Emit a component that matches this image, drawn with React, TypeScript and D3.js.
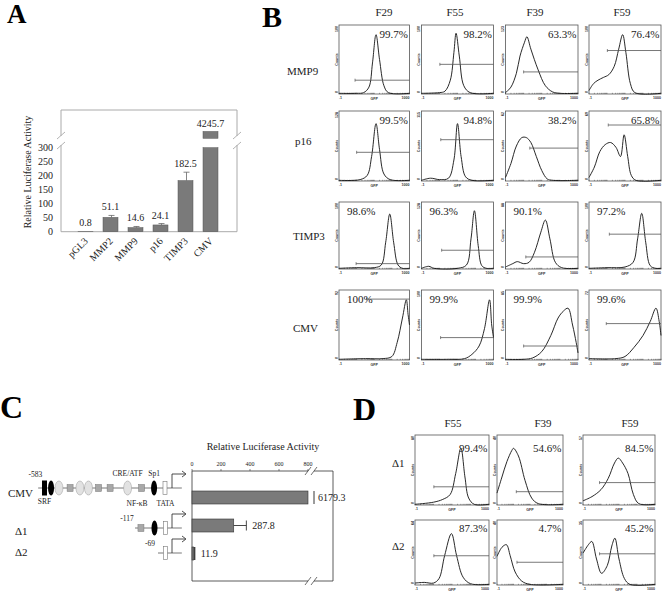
import React from 'react';
import * as d3 from 'd3';

// ---------- Panel A data ----------
const promoters = ['pGL3', 'MMP2', 'MMP9', 'p16', 'TIMP3', 'CMV'];
const activity = [0.8, 51.1, 14.6, 24.1, 182.5, 4245.7];
const activityErr = [0, 7, 4, 5, 30, 0];
const activityTicks = [0, 50, 100, 150, 200, 250, 300];

// ---------- Panel B data ----------
const colsB = ['F29', 'F55', 'F39', 'F59'];
const rowsB = ['MMP9', 'p16', 'TIMP3', 'CMV'];
const pctB = [
  ['99.7%', '98.2%', '63.3%', '76.4%'],
  ['99.5%', '94.8%', '38.2%', '65.8%'],
  ['98.6%', '96.3%', '90.1%', '97.2%'],
  ['100%', '99.9%', '99.9%', '99.6%'],
];
const pctSideB = ['right', 'right', 'left', 'left'];
// gate: [start log10(GFP), height fraction]
const gatesB = [
  [[-0.09, 0.2], [0.02, 0.43], [0.0, 0.32], [0.02, 0.63]],
  [[0.0, 0.41], [0.07, 0.59], [0.34, 0.47], [0.07, 0.8]],
  [[-0.03, 0.08], [0.12, 0.28], [0.12, 0.18], [0.13, 0.52]],
  [[0.57, 0.87], [0.06, 0.32], [0.0, 0.2], [-0.04, 0.52]],
];
const topCountB = [
  ['100', '100', '123', '100'],
  ['128', '115', '62', '69'],
  ['100', '128', '88', '100'],
  ['92', '100', '85', '72'],
];
// histogram outlines: [log10(GFP), height fraction]
const histB = [
  [
    [[-1, 0.01], [0, 0.01], [0.4, 0.02], [0.7, 0.1], [0.9, 0.45], [1.1, 0.86], [1.3, 0.5], [1.55, 0.12], [1.8, 0.02], [3, 0.01]],
    [[-1, 0.01], [0, 0.02], [0.3, 0.04], [0.6, 0.2], [0.8, 0.6], [0.92, 0.88], [1.1, 0.55], [1.35, 0.12], [1.7, 0.02], [3, 0.01]],
    [[-1, 0.02], [-0.7, 0.1], [-0.4, 0.3], [-0.2, 0.55], [0.05, 0.75], [0.18, 0.83], [0.4, 0.65], [0.8, 0.35], [1.2, 0.12], [1.6, 0.03], [2, 0.01], [3, 0.01]],
    [[-1, 0.05], [-0.75, 0.15], [-0.5, 0.2], [-0.2, 0.24], [0.1, 0.28], [0.4, 0.4], [0.65, 0.65], [0.87, 0.86], [1.05, 0.6], [1.3, 0.15], [1.55, 0.02], [3, 0.01]],
  ],
  [
    [[-1, 0.01], [0.2, 0.02], [0.6, 0.08], [0.85, 0.35], [1.1, 0.82], [1.3, 0.45], [1.55, 0.1], [1.9, 0.02], [3, 0.01]],
    [[-1, 0.01], [-0.5, 0.04], [0, 0.02], [0.5, 0.04], [0.8, 0.3], [1, 0.82], [1.2, 0.35], [1.45, 0.06], [1.8, 0.01], [3, 0.01]],
    [[-1, 0.05], [-0.7, 0.25], [-0.4, 0.5], [-0.1, 0.62], [0.15, 0.62], [0.4, 0.55], [0.7, 0.35], [1.0, 0.15], [1.3, 0.03], [1.6, 0.01], [3, 0.01]],
    [[-1, 0.05], [-0.7, 0.2], [-0.4, 0.42], [-0.1, 0.52], [0.2, 0.55], [0.5, 0.48], [0.75, 0.35], [0.95, 0.66], [1.15, 0.35], [1.35, 0.08], [1.6, 0.01], [3, 0.01]],
  ],
  [
    [[-1, 0.01], [0, 0.02], [1, 0.02], [1.4, 0.06], [1.65, 0.4], [1.88, 0.82], [2.1, 0.4], [2.35, 0.06], [2.6, 0.01], [3, 0.01]],
    [[-1, 0.01], [-0.6, 0.04], [-0.3, 0.01], [1, 0.01], [1.5, 0.06], [1.75, 0.45], [1.94, 0.87], [2.15, 0.35], [2.35, 0.05], [2.6, 0.01], [3, 0.01]],
    [[-1, 0.03], [-0.6, 0.08], [-0.35, 0.11], [0, 0.08], [0.3, 0.1], [0.6, 0.25], [0.95, 0.55], [1.2, 0.73], [1.45, 0.45], [1.75, 0.1], [2.1, 0.02], [3, 0.01]],
    [[-1, 0.01], [0, 0.02], [1, 0.03], [1.45, 0.1], [1.7, 0.45], [1.93, 0.83], [2.15, 0.4], [2.4, 0.05], [2.7, 0.01], [3, 0.01]],
  ],
  [
    [[-1, 0.01], [0.5, 0.02], [1.5, 0.02], [2, 0.05], [2.3, 0.25], [2.6, 0.6], [2.82, 0.86], [2.92, 0.65], [3, 0.5]],
    [[-1, 0.01], [0.5, 0.01], [1.4, 0.02], [1.8, 0.08], [2.2, 0.2], [2.5, 0.45], [2.78, 0.86], [2.9, 0.5], [3, 0.32]],
    [[-1, 0.01], [0, 0.01], [0.5, 0.03], [1, 0.12], [1.5, 0.35], [1.9, 0.6], [2.2, 0.7], [2.45, 0.74], [2.7, 0.5], [2.9, 0.25], [3, 0.1]],
    [[-1, 0.02], [0.5, 0.02], [1, 0.05], [1.5, 0.18], [2, 0.35], [2.4, 0.55], [2.72, 0.74], [2.9, 0.55], [3, 0.35]],
  ],
];

// ---------- Panel C data ----------
const constructs = ['CMV', 'Δ1', 'Δ2'];
const constructActivity = [6179.3, 287.8, 11.9];
const constructErr = [0, 87, 0];
const constructTicks = [0, 200, 400, 600, 800];
const constructStart = [-612, -169, -64]; // bp where drawn DNA line begins
const constructStartLabel = ['-583', '-117', '-69'];
// promoter elements: bp position and kind
const cmvElements = [
  { bp: -583, kind: 'srf' },
  { bp: -553, kind: 'black' },
  { bp: -517, kind: 'oval' },
  { bp: -466, kind: 'box' },
  { bp: -421, kind: 'oval' },
  { bp: -382, kind: 'oval' },
  { bp: -336, kind: 'box' },
  { bp: -283, kind: 'box' },
  { bp: -203, kind: 'oval' },
  { bp: -139, kind: 'box' },
  { bp: -82, kind: 'black' },
  { bp: -32, kind: 'tata' },
];
const d1Elements = [
  { bp: -142, kind: 'box' },
  { bp: -80, kind: 'black' },
  { bp: -30, kind: 'tata' },
];
const d2Elements = [{ bp: -30, kind: 'tata' }];
const elementSets = [cmvElements, d1Elements, d2Elements];

// ---------- Panel D data ----------
const colsD = ['F55', 'F39', 'F59'];
const rowsD = ['Δ1', 'Δ2'];
const pctD = [
  ['99.4%', '54.6%', '84.5%'],
  ['87.3%', '4.7%', '45.2%'],
];
const gatesD = [
  [[0.02, 0.26], [0.17, 0.19], [-0.08, 0.32]],
  [[0.02, 0.45], [0.21, 0.35], [-0.08, 0.48]],
];
const topCountD = [
  ['80', '40', '57'],
  ['64', '40', '35'],
];
const histD = [
  [
    [[-1, 0.01], [0, 0.04], [0.5, 0.08], [0.9, 0.15], [1.2, 0.45], [1.48, 0.81], [1.7, 0.4], [1.9, 0.1], [2.2, 0.01], [3, 0.01]],
    [[-1, 0.17], [-0.7, 0.4], [-0.4, 0.62], [-0.1, 0.78], [0, 0.81], [0.3, 0.7], [0.7, 0.35], [1.1, 0.1], [1.5, 0.02], [3, 0.01]],
    [[-1, 0.06], [-0.5, 0.12], [0, 0.22], [0.4, 0.38], [0.75, 0.6], [0.96, 0.67], [1.2, 0.6], [1.5, 0.45], [1.8, 0.15], [2.1, 0.02], [3, 0.01]],
  ],
  [
    [[-1, 0.03], [-0.5, 0.04], [0, 0.03], [0.3, 0.1], [0.6, 0.45], [0.97, 0.79], [1.25, 0.45], [1.6, 0.12], [2, 0.02], [3, 0.01]],
    [[-1, 0.44], [-0.7, 0.58], [-0.43, 0.62], [-0.2, 0.45], [0.1, 0.2], [0.5, 0.06], [1, 0.01], [3, 0.01]],
    [[-1, 0.49], [-0.7, 0.62], [-0.51, 0.67], [-0.25, 0.4], [0.03, 0.18], [0.35, 0.3], [0.6, 0.6], [0.77, 0.72], [1.0, 0.4], [1.3, 0.1], [1.6, 0.01], [3, 0.01]],
  ],
];

const SERIF = "'Liberation Serif', 'Times New Roman', serif";

type HistProps = {
  x: number; y: number; w: number; h: number;
  pts: number[][]; gate: number[]; pct: string; side: string; pctDy: number; top: string;
};

function Histogram({ x, y, w, h, pts, gate, pct, side, pctDy, top }: HistProps) {
  const xs = d3.scaleLinear().domain([-1, 3]).range([x, x + w]);
  const ys = d3.scaleLinear().domain([0, 1]).range([y + h, y]).clamp(true);
  const logScale = d3.scaleLog().domain([0.1, 1000]).range([x, x + w]);
  const line = d3
    .line<number[]>()
    .x((d) => xs(d[0]))
    .y((d) => ys(d[1]))
    .curve(d3.curveCatmullRom.alpha(0.5));
  const minor = logScale.ticks();
  const gx = xs(gate[0]);
  const gy = ys(gate[1]);
  return (
    <g>
      <rect x={x} y={y} width={w} height={h} fill="#fff" stroke="#555" strokeWidth={0.8} />
      {minor.map((t, i) => (
        <line key={i} x1={logScale(t)} x2={logScale(t)} y1={y + h} y2={y + h - 1.2} stroke="#444" strokeWidth={0.5} />
      ))}
      <path d={line(pts) || ''} fill="none" stroke="#111" strokeWidth={0.9} />
      <line x1={gx} x2={x + w} y1={gy} y2={gy} stroke="#555" strokeWidth={0.8} />
      <line x1={gx} x2={gx} y1={gy - 1.5} y2={gy + 1.5} stroke="#555" strokeWidth={0.7} />
      <text x={x} y={y + h + 5} fontSize={3.6} fontFamily="Arial" fontWeight="bold" fill="#333">.1</text>
      <text x={x + w} y={y + h + 5} fontSize={3.6} fontFamily="Arial" fontWeight="bold" textAnchor="end" fill="#333">1000</text>
      <text x={x + w / 2} y={y + h + 6} fontSize={3.6} fontFamily="Arial" fontWeight="bold" textAnchor="middle" fill="#333">GFP</text>
      <text transform={`translate(${x - 1.5},${y + h / 2}) rotate(-90)`} fontSize={3.6} fontFamily="Arial" fontWeight="bold" textAnchor="middle" fill="#333">Counts</text>
      <text transform={`translate(${x - 1.5},${y + 1}) rotate(-90)`} fontSize={3.6} fontFamily="Arial" fontWeight="bold" textAnchor="end" fill="#333">{top}</text>
      <text transform={`translate(${x - 1.5},${y + h - 1}) rotate(-90)`} fontSize={3.6} fontFamily="Arial" fontWeight="bold" textAnchor="start" fill="#333">0</text>
      <text
        x={side === 'right' ? x + w - 1.5 : x + 8}
        y={y + pctDy}
        fontSize={11}
        fontFamily={SERIF}
        textAnchor={side === 'right' ? 'end' : 'start'}
        fill="#222"
      >
        {pct}
      </text>
    </g>
  );
}

function PanelA() {
  const xb = d3.scaleBand().domain(promoters).range([73, 223]).paddingInner(0.4).paddingOuter(0.2);
  const yLow = d3.scaleLinear().domain([0, 300]).range([231.7, 147.7]);
  const yHigh = d3.scaleLinear().domain([4000, 4800]).range([141, 110]);
  const left = 61, right = 237, top = 110, bottom = 231.7;
  const brk1 = 136, brk2 = 145;
  const bw = xb.bandwidth();
  return (
    <g fontFamily={SERIF}>
      <text x={7} y={23} fontSize={27} fontWeight="bold">A</text>
      {/* frame */}
      <line x1={left} x2={right} y1={top} y2={top} stroke="#aaa" strokeWidth={1} />
      <line x1={left} x2={right} y1={bottom} y2={bottom} stroke="#aaa" strokeWidth={1} />
      {[left, right].map((xx, i) => (
        <g key={i}>
          <line x1={xx} x2={xx} y1={top} y2={brk1} stroke="#aaa" strokeWidth={1} />
          <line x1={xx} x2={xx} y1={brk2} y2={bottom} stroke="#aaa" strokeWidth={1} />
          <line x1={xx - 4} x2={xx + 4} y1={brk1 + 3} y2={brk1 - 4} stroke="#aaa" strokeWidth={0.9} />
          <line x1={xx - 4} x2={xx + 4} y1={brk2 + 4} y2={brk2 - 3} stroke="#aaa" strokeWidth={0.9} />
        </g>
      ))}
      {activityTicks.map((t) => (
        <text key={t} x={53} y={yLow(t) + 3.5} fontSize={10} textAnchor="end" fill="#222">{t}</text>
      ))}
      <text transform={`translate(31,172) rotate(-90)`} fontSize={10} textAnchor="middle" fill="#222">
        Relative Luciferase Activity
      </text>
      {promoters.map((p, i) => {
        const v = activity[i];
        const xx = xb(p) as number;
        const cx = xx + bw / 2;
        if (v > 300) {
          return (
            <g key={p}>
              <rect x={xx} y={yLow(300)} width={bw} height={yLow(0) - yLow(300)} fill="#7a7a7a" stroke="#555" strokeWidth={0.5} />
              <rect x={xx} y={yHigh(v)} width={bw} height={yHigh(4070) - yHigh(v)} fill="#7a7a7a" stroke="#555" strokeWidth={0.5} />
              <text x={cx} y={yHigh(v) - 4} fontSize={10} textAnchor="middle" fill="#222">{v.toFixed(1)}</text>
            </g>
          );
        }
        const et = yLow(v + activityErr[i]);
        return (
          <g key={p}>
            <rect x={xx} y={yLow(v)} width={bw} height={yLow(0) - yLow(v)} fill="#7a7a7a" stroke="#555" strokeWidth={0.5} />
            {activityErr[i] > 0 && (
              <g stroke="#666" strokeWidth={0.8}>
                <line x1={cx + 1} x2={cx + 1} y1={yLow(v)} y2={et} />
                <line x1={cx - 2} x2={cx + 4} y1={et} y2={et} />
              </g>
            )}
            <text x={cx} y={et - 5} fontSize={10} textAnchor="middle" fill="#222">{v.toFixed(1)}</text>
          </g>
        );
      })}
      {promoters.map((p) => {
        const cx = (xb(p) as number) + bw / 2;
        return (
          <text key={p} transform={`translate(${cx + 3},${bottom + 10}) rotate(-45)`} fontSize={10} textAnchor="end" fill="#222">
            {p}
          </text>
        );
      })}
    </g>
  );
}

function PanelB() {
  const colX = [339, 421.5, 505.5, 589];
  const colW = [70.5, 72, 72.5, 72];
  const rowY = [25, 111, 202, 290];
  const rowH = [69, 70, 67, 70];
  const headX = [384, 455, 535, 622];
  const labelX = [287, 295, 293, 293];
  const labelY = [75, 145, 240, 332];
  return (
    <g fontFamily={SERIF}>
      <text x={262} y={27} fontSize={30} fontWeight="bold">B</text>
      {colsB.map((c, j) => (
        <text key={c} x={headX[j]} y={15.5} fontSize={11} textAnchor="middle" fill="#222">{c}</text>
      ))}
      {rowsB.map((r, i) => (
        <text key={r} x={labelX[i]} y={labelY[i]} fontSize={11} fill="#222">{r}</text>
      ))}
      {rowsB.map((r, i) =>
        colsB.map((c, j) => (
          <Histogram
            key={r + c}
            x={colX[j]}
            y={rowY[i]}
            w={colW[j]}
            h={rowH[i]}
            pts={histB[i][j]}
            gate={gatesB[i][j]}
            pct={pctB[i][j]}
            side={pctSideB[i]}
            pctDy={13}
            top={topCountB[i][j]}
          />
        ))
      )}
    </g>
  );
}

function Element({ kind, x, y }: { kind: string; x: number; y: number }) {
  if (kind === 'srf') return <rect x={x - 2.5} y={y - 7.5} width={5} height={15} fill="#000" />;
  if (kind === 'black') return <ellipse cx={x} cy={y} rx={3} ry={7.5} fill="#000" />;
  if (kind === 'oval') return <ellipse cx={x} cy={y} rx={4} ry={7} fill="#e2e2e2" stroke="#999" strokeWidth={0.5} />;
  if (kind === 'box') return <rect x={x - 3} y={y - 3.5} width={6} height={7} fill="#a8a8a8" stroke="#777" strokeWidth={0.5} />;
  return <rect x={x - 2} y={y - 6.5} width={4} height={13} fill="#fff" stroke="#777" strokeWidth={0.6} />;
}

function PanelC() {
  const bp = d3.scaleLinear().domain([-583, 0]).range([44.5, 172]);
  const xv = d3.scaleLinear().domain([0, 800]).range([192, 308]);
  const rowsY = d3.scalePoint().domain(constructs).range([497.5, 553.5]);
  const lineY = [488, 528, 553];
  const labelY = [497, 535, 556];
  const boxL = 192, boxR = 333, boxT = 471, boxB = 581;
  const barH = 13;
  const brX = 311;
  return (
    <g fontFamily={SERIF}>
      <text x={0} y={418} fontSize={32} fontWeight="bold">C</text>
      <text x={263} y={450} fontSize={10} textAnchor="middle" fill="#222">Relative Luciferase Activity</text>
      {/* frame */}
      <line x1={boxL} x2={brX - 3} y1={boxT} y2={boxT} stroke="#333" strokeWidth={0.8} />
      <line x1={brX + 3} x2={boxR} y1={boxT} y2={boxT} stroke="#333" strokeWidth={0.8} />
      <line x1={boxL} x2={brX - 3} y1={boxB} y2={boxB} stroke="#333" strokeWidth={0.8} />
      <line x1={brX + 3} x2={boxR} y1={boxB} y2={boxB} stroke="#333" strokeWidth={0.8} />
      <line x1={boxL} x2={boxL} y1={boxT} y2={boxB} stroke="#333" strokeWidth={0.8} />
      <line x1={boxR} x2={boxR} y1={boxT} y2={boxB} stroke="#333" strokeWidth={0.8} />
      {[boxT, boxB].map((yy) => (
        <g key={yy} stroke="#333" strokeWidth={0.7}>
          <line x1={brX - 6} x2={brX} y1={yy + 4} y2={yy - 4} />
          <line x1={brX} x2={brX + 6} y1={yy + 4} y2={yy - 4} />
        </g>
      ))}
      {constructTicks.map((t) => (
        <g key={t}>
          <line x1={xv(t)} x2={xv(t)} y1={boxT} y2={boxT - 2} stroke="#333" strokeWidth={0.6} />
          <text x={xv(t)} y={boxT - 5} fontSize={6} textAnchor="middle" fill="#222">{t}</text>
        </g>
      ))}
      {constructs.map((c, i) => {
        const v = constructActivity[i];
        const cy = rowsY(c) as number;
        const xEnd = xv(Math.min(v, 800));
        const e = constructErr[i];
        return (
          <g key={c}>
            <rect x={xv(0)} y={cy - barH / 2} width={Math.max(xEnd - xv(0), 1.5)} height={barH} fill="#7a7a7a" stroke="#333" strokeWidth={0.6} />
            {v > 800 && <line x1={xEnd + 6} x2={xEnd + 6} y1={cy - barH / 2} y2={cy + barH / 2} stroke="#222" strokeWidth={0.9} />}
            {e > 0 && (
              <g stroke="#333" strokeWidth={0.9}>
                <line x1={xEnd} x2={xv(v + e)} y1={cy} y2={cy} />
                <line x1={xv(v + e)} x2={xv(v + e)} y1={cy - 5} y2={cy + 5} />
              </g>
            )}
            {v < 50 && <line x1={xEnd + 1} x2={xEnd + 1} y1={cy - barH / 2} y2={cy + barH / 2} stroke="#222" strokeWidth={1.2} />}
            <text x={(v > 800 ? xEnd + 10 : e > 0 ? xv(v + e) + 6 : xEnd + 7)} y={cy + 3.5} fontSize={10} fill="#222">
              {v.toFixed(1)}
            </text>
          </g>
        );
      })}
      {/* promoter diagrams */}
      {constructs.map((c, i) => {
        const ly = lineY[i];
        const tss = bp(0);
        return (
          <g key={c}>
            <text x={i === 0 ? 8 : 15} y={labelY[i]} fontSize={11} fill="#222">{c}</text>
            <line x1={bp(constructStart[i])} x2={bp(45)} y1={ly} y2={ly} stroke="#555" strokeWidth={0.8} />
            {elementSets[i].map((el, k) => (
              <Element key={k} kind={el.kind} x={bp(el.bp)} y={ly} />
            ))}
            <path d={`M${tss},${ly} V${ly - 14} H${tss + 13}`} fill="none" stroke="#222" strokeWidth={0.8} />
            <path d={`M${tss + 10},${ly - 17} L${tss + 14},${ly - 14} L${tss + 10},${ly - 11}`} fill="none" stroke="#222" strokeWidth={0.8} />
            <text
              x={i === 0 ? bp(-625) : bp(constructStart[i]) - 8}
              y={i === 0 ? ly - 11 : ly - 7}
              fontSize={7.5}
              textAnchor="middle"
              fill="#222"
            >
              {constructStartLabel[i]}
            </text>
          </g>
        );
      })}
      <text x={bp(-583)} y={504} fontSize={7.5} textAnchor="middle" fill="#222">SRF</text>
      <text x={bp(-203)} y={476} fontSize={7.5} textAnchor="middle" fill="#222">CRE/ATF</text>
      <text x={bp(-82)} y={476} fontSize={7.5} textAnchor="middle" fill="#222">Sp1</text>
      <text x={bp(-160)} y={506} fontSize={7.5} textAnchor="middle" fill="#222">NF-κB</text>
      <text x={bp(-30)} y={506} fontSize={7.5} textAnchor="middle" fill="#222">TATA</text>
    </g>
  );
}

function PanelD() {
  const colX = [415, 497, 583];
  const colW = [74, 66, 72];
  const rowY = [435, 520];
  const rowH = [70, 65];
  const headX = [453, 543, 630];
  const pctDy = [17, 12];
  return (
    <g fontFamily={SERIF}>
      <text x={353} y={420} fontSize={32} fontWeight="bold">D</text>
      {colsD.map((c, j) => (
        <text key={c} x={headX[j]} y={427} fontSize={11} textAnchor="middle" fill="#222">{c}</text>
      ))}
      {rowsD.map((r, i) => (
        <text key={r} x={392} y={rowY[i] + (i === 0 ? 32 : 30)} fontSize={11} fill="#222">{r}</text>
      ))}
      {rowsD.map((r, i) =>
        colsD.map((c, j) => (
          <Histogram
            key={r + c}
            x={colX[j]}
            y={rowY[i]}
            w={colW[j]}
            h={rowH[i]}
            pts={histD[i][j]}
            gate={gatesD[i][j]}
            pct={pctD[i][j]}
            side="right"
            pctDy={pctDy[i]}
            top={topCountD[i][j]}
          />
        ))
      )}
    </g>
  );
}

export default function App() {
  return (
    <svg width={664} height={600} viewBox="0 0 664 600" style={{ display: 'block', position: 'absolute', left: 0, top: 0, background: '#fff' }}>
      <rect x={0} y={0} width={664} height={600} fill="#fff" />
      <PanelA />
      <PanelB />
      <PanelC />
      <PanelD />
    </svg>
  );
}
